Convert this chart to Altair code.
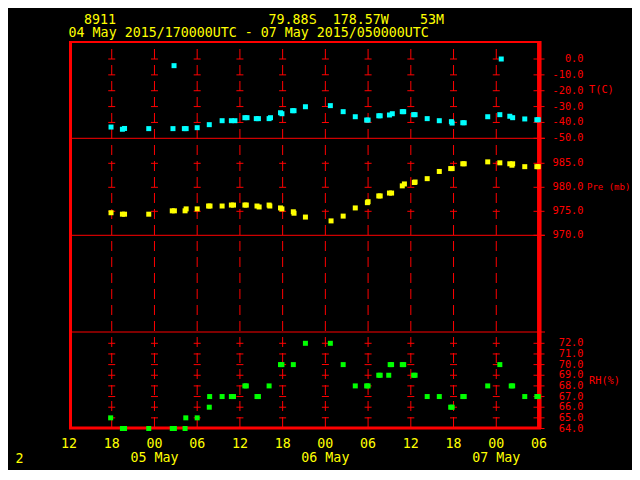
import altair as alt
import pandas as pd

# ---------------------------------------------------------------- data
BASE = pd.Timestamp("2015-05-04 12:00")  # UTC, left edge of the time axis

header_station = "8911"
header_lat = "79.88S"
header_lon = "178.57W"
header_elev = "53M"
header_period = "04 May 2015/170000UTC - 07 May 2015/050000UTC"
footer_page = "2"

axis_hours = [0, 6, 12, 18, 24, 30, 36, 42, 48, 54, 60, 66]   # tick label times (h after BASE)
axis_labels = ["12", "18", "00", "06", "12", "18", "00", "06", "12", "18", "00", "06"]
date_hours = [12, 36, 60]
date_labels = ["05 May", "06 May", "07 May"]
grid_hours = [6, 12, 18, 24, 30, 36, 42, 48, 54, 60]          # dashed grid lines
end_hour = 66

t_levels = [0, -10, -20, -30, -40]
t_ticks = [0, -10, -20, -30, -40, -50]
t_tick_labels = ["0.0", "-10.0", "-20.0", "-30.0", "-40.0", "-50.0"]
p_levels = [985, 980, 975]
p_ticks = [985, 980, 975, 970]
p_tick_labels = ["985.0", "980.0", "975.0", "970.0"]
rh_levels = [72, 71, 70, 69, 68, 67, 66, 65]
rh_ticks = [72, 71, 70, 69, 68, 67, 66, 65, 64]
rh_tick_labels = ["72.0", "71.0", "70.0", "69.0", "68.0", "67.0", "66.0", "65.0", "64.0"]

# Temperature (C)
t_hours = [5.9, 7.5, 7.8, 11.2, 14.75, 14.6, 16.2, 16.45, 18.0, 19.7,
           21.5, 22.8, 23.3, 24.7, 25.0, 26.3, 26.6, 28.1, 28.3, 29.7,
           29.9, 31.4, 31.6, 33.2, 36.7, 38.5, 40.2, 41.8, 42.0, 43.5,
           43.7, 45.0, 45.4, 46.8, 47.0, 48.4, 48.6, 50.3, 52.0, 53.7,
           53.8, 55.3, 55.5, 58.8, 60.5, 60.7, 61.9, 62.3, 64.0, 65.7,
           65.9]
t_vals = [-42.9, -44.3, -43.8, -43.9, -4.2, -43.9, -43.9, -43.9, -43.3, -41.4,
          -38.9, -38.9, -38.9, -37.0, -37.0, -37.6, -37.6, -37.6, -37.0, -33.9,
          -34.5, -32.6, -32.6, -30.1, -29.4, -33.2, -36.4, -38.5, -38.5, -35.8,
          -35.8, -35.3, -34.5, -33.2, -33.2, -35.1, -35.1, -37.6, -38.9, -39.5,
          -40.4, -40.2, -40.2, -36.4, -35.1, 0.0, -36.1, -37.0, -37.8, -38.3,
          -38.3]

# Pressure (mb)
p_hours = [5.9, 7.5, 7.8, 11.2, 14.5, 14.8, 16.3, 16.45, 18.0, 19.6,
           19.8, 21.5, 22.8, 23.1, 24.7, 24.9, 26.4, 26.7, 28.1, 28.2,
           29.7, 29.9, 31.5, 31.6, 33.2, 36.8, 38.5, 40.2, 41.9, 42.0,
           43.5, 43.7, 45.0, 45.3, 46.8, 47.1, 48.5, 48.6, 50.3, 52.0,
           53.6, 53.8, 55.3, 55.5, 58.8, 60.5, 61.9, 62.2, 62.3, 64.0,
           65.7, 65.9]
p_vals = [974.7, 974.4, 974.4, 974.4, 975.1, 975.1, 975.1, 975.5, 975.5, 976.1,
          976.1, 976.1, 976.3, 976.3, 976.3, 976.3, 976.1, 975.9, 976.3, 976.1,
          975.7, 975.5, 974.9, 974.6, 973.8, 973.0, 974.0, 975.7, 976.8, 977.0,
          978.2, 978.2, 978.8, 978.8, 980.3, 980.7, 981.0, 981.1, 981.8, 983.3,
          983.9, 983.9, 984.9, 984.9, 985.3, 985.1, 984.9, 984.6, 984.9, 984.3,
          984.3, 984.3]

# Relative humidity (%)
rh_hours = [5.85, 7.5, 7.8, 11.2, 14.5, 14.8, 16.3, 16.4, 18.0, 19.7,
            19.75, 21.5, 22.8, 23.1, 24.7, 24.9, 26.4, 26.6, 28.1, 29.7,
            29.9, 31.5, 33.2, 36.7, 38.5, 40.2, 41.8, 42.0, 43.5, 43.7,
            44.9, 45.1, 45.3, 46.8, 47.0, 48.4, 48.6, 50.3, 52.0, 53.6,
            53.8, 55.3, 55.5, 58.8, 60.5, 62.1, 62.3, 64.0, 65.7, 65.9]
rh_vals = [65, 64, 64, 64, 64, 64, 64, 65, 65, 66,
           67, 67, 67, 67, 68, 68, 67, 67, 68, 70,
           70, 70, 72, 72, 70, 68, 68, 68, 69, 69,
           69, 70, 70, 70, 70, 69, 69, 67, 67, 66,
           66, 67, 67, 68, 70, 68, 68, 67, 67, 67]

# ---------------------------------------------------------------- styles
RED = "#FF0000"
YELLOW = "#FFFF00"
CYAN = "#00FFFF"
GREEN = "#00FF00"
FONT = "DejaVu Sans Mono"
YFS = 13.3     # yellow text size
W, H = 470, 387


def iso(h):
    return (BASE + pd.Timedelta(hours=h)).strftime("%Y-%m-%dT%H:%M:%SZ")


def dt(h):
    t = BASE + pd.Timedelta(hours=h)
    return alt.DateTime(year=t.year, month=t.month, date=t.day, hours=t.hour, utc=True)


x_scale = alt.Scale(type="utc", domain=[dt(0), dt(end_hour)], nice=False)


def xenc():
    return alt.X("time:T", scale=x_scale, axis=None)


def grid_df(levels):
    return pd.DataFrame([{"time": iso(h), "val": v} for h in grid_hours for v in levels])


def edge_df(levels):
    return pd.DataFrame({"time": [iso(end_hour)] * len(levels), "val": levels})


def obs_df(hours, vals):
    return pd.DataFrame({"time": [iso(h) for h in hours], "val": vals})


def panel(scale, levels, ticks, tick_labels, hours, vals, color, title, title_fs, title_x,
          title_y, line_val=None):
    yenc = alt.Y("val:Q", scale=scale, axis=None)
    layers = [
        alt.Chart(grid_df(levels)).mark_tick(orient="horizontal", size=7, thickness=1,
                                             color=RED, opacity=1)
        .encode(x=xenc(), y=yenc),
        alt.Chart(edge_df(ticks)).mark_tick(orient="horizontal", size=11, thickness=1,
                                            color=RED, opacity=1)
        .encode(x=xenc(), y=yenc),
        alt.Chart(pd.DataFrame({"val": ticks, "lab": tick_labels})).mark_text(
            color=RED, font=FONT, fontSize=10.3, align="right", baseline="middle")
        .encode(x=alt.value(W + 44.5), y=yenc, text="lab:N"),
        alt.Chart(pd.DataFrame({"lab": [title]})).mark_text(
            color=RED, font=FONT, fontSize=title_fs, align="left", baseline="middle")
        .encode(x=alt.value(W + title_x), y=alt.value(title_y), text="lab:N"),
    ]
    if line_val is not None:
        layers.append(
            alt.Chart(pd.DataFrame({"val": [line_val]})).mark_rule(color=RED, strokeWidth=1)
            .encode(x=alt.value(0), x2=alt.value(W + 6), y=yenc)
        )
    layers.append(
        alt.Chart(obs_df(hours, vals)).mark_square(size=25, color=color, opacity=1)
        .encode(x=xenc(), y=yenc)
    )
    return alt.layer(*layers)


t_scale = alt.Scale(domain=[-50, 0], range=[97.3, 18], nice=False, zero=False)
p_scale = alt.Scale(domain=[970, 985], range=[194.3, 122.3], nice=False, zero=False)
rh_scale = alt.Scale(domain=[64, 72], range=[387.5, 302.3], nice=False, zero=False)

t_panel = panel(t_scale, t_levels, t_ticks, t_tick_labels, t_hours, t_vals, CYAN,
                "T(C)", 10.3, 50, 49, line_val=-50)
p_panel = panel(p_scale, p_levels, p_ticks, p_tick_labels, p_hours, p_vals, YELLOW,
                "Pre (mb)", 9.0, 48, 146, line_val=970)
rh_panel = panel(rh_scale, rh_levels, rh_ticks, rh_tick_labels, rh_hours, rh_vals, GREEN,
                 "RH(%)", 10.3, 50, 340)

one = pd.DataFrame({"k": [0]})

# dashed vertical grid
grid = alt.Chart(pd.DataFrame({"time": [iso(h) for h in grid_hours]})).mark_rule(
    color=RED, strokeWidth=1, strokeDash=[10, 6]
).encode(x=xenc(), y=alt.value(8), y2=alt.value(H))

# time labels
time_labels = alt.Chart(pd.DataFrame({"time": [iso(h) for h in axis_hours],
                                      "lab": axis_labels})).mark_text(
    color=YELLOW, font=FONT, fontSize=YFS, align="center", baseline="alphabetic"
).encode(x=xenc(), y=alt.value(H + 20), text="lab:N")
day_labels = alt.Chart(pd.DataFrame({"time": [iso(h) for h in date_hours],
                                     "lab": date_labels})).mark_text(
    color=YELLOW, font=FONT, fontSize=YFS, align="center", baseline="alphabetic"
).encode(x=xenc(), y=alt.value(H + 34), text="lab:N")

# frame
frame = [
    alt.Chart(one).mark_rule(color=RED, strokeWidth=3).encode(
        x=alt.value(1.5), y=alt.value(0), y2=alt.value(H + 1)),
    alt.Chart(one).mark_rule(color=RED, strokeWidth=4.5).encode(
        x=alt.value(W + 0.3), y=alt.value(0), y2=alt.value(H + 1)),
    alt.Chart(one).mark_rule(color=RED, strokeWidth=2).encode(
        x=alt.value(0), x2=alt.value(W + 2), y=alt.value(1)),
    alt.Chart(one).mark_rule(color=RED, strokeWidth=3).encode(
        x=alt.value(0), x2=alt.value(W + 2), y=alt.value(H)),
    alt.Chart(one).mark_rule(color=RED, strokeWidth=1).encode(
        x=alt.value(0), x2=alt.value(W + 6), y=alt.value(291)),
]


def label(text, x, y):
    return alt.Chart(pd.DataFrame({"lab": [text]})).mark_text(
        color=YELLOW, font=FONT, fontSize=YFS, align="left", baseline="alphabetic"
    ).encode(x=alt.value(x), y=alt.value(y), text="lab:N")


texts = [
    label(header_station, 15, -17.5),
    label(header_lat, 199.6, -17.5),
    label(header_lon, 263.7, -17.5),
    label(header_elev, 351, -17.5),
    label(header_period, -0.4, -4),
    label(footer_page, -53.5, 422),
]

chart = alt.layer(grid, *frame, t_panel, p_panel, rh_panel, time_labels, day_labels,
                  *texts).resolve_scale(
    y="independent"
).properties(
    width=W, height=H,
    padding={"left": 61, "top": 33, "right": 93, "bottom": 42},
    autosize=alt.AutoSizeParams(type="none"),
    background="black",
).configure_view(strokeWidth=0)

chart.save("out.html", embed_options={"renderer": "svg", "actions": False})
